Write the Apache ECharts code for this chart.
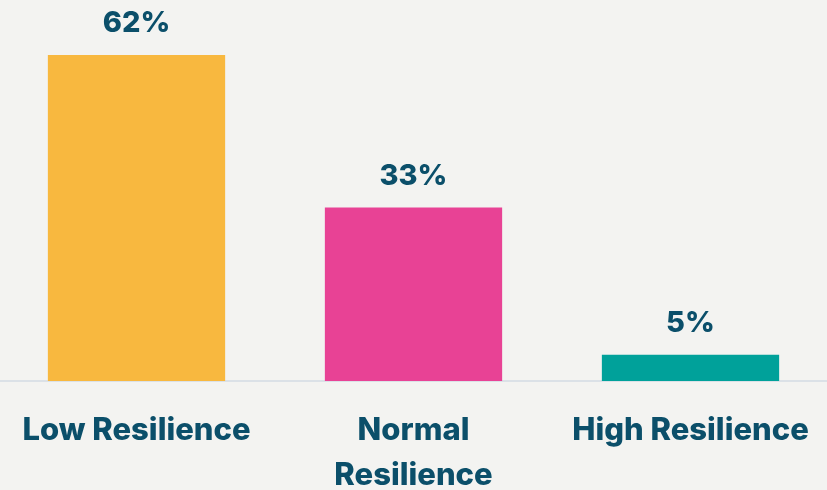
<!DOCTYPE html>
<html>
<head>
<meta charset="utf-8">
<script src="https://cdn.jsdelivr.net/npm/echarts@6/dist/echarts.min.js"></script>
<style>
  html, body { margin: 0; padding: 0; background: #f3f3f1; }
  #chart { width: 827px; height: 490px; }
</style>
</head>
<body>
<div id="chart"></div>
<script>
// Resilience levels and their shares (%)
const categories = ['Low Resilience', 'Normal\nResilience', 'High Resilience'];
const values = [62, 33, 5];
const barColors = ['#f8b83f', '#e84295', '#00a19a'];

const textColor = '#0b4f6a';
const fontFamily = 'Inter, "Noto Sans", sans-serif';

const chart = echarts.init(document.getElementById('chart'));
chart.setOption({
  backgroundColor: '#f3f3f1',
  animation: false,
  grid: {
    left: -2, right: -2, top: 13, bottom: 109,
    containLabel: false,
    outerBoundsMode: 'none'
  },
  xAxis: {
    type: 'category',
    data: categories,
    axisLine: { show: true, lineStyle: { color: '#dbe1e7', width: 2 } },
    axisTick: { show: false },
    axisLabel: {
      color: textColor,
      fontFamily: fontFamily,
      fontWeight: 800,
      fontSize: 31,
      lineHeight: 45,
      margin: 27,
      interval: 0
    }
  },
  yAxis: {
    type: 'value',
    min: 0,
    max: 70,
    show: false,
    splitLine: { show: false }
  },
  series: [{
    type: 'bar',
    barWidth: '64%',
    data: values.map((v, i) => ({ value: v, itemStyle: { color: barColors[i] } })),
    label: {
      show: true,
      position: 'top',
      distance: 17,
      formatter: p => p.value + '%',
      color: textColor,
      fontFamily: fontFamily,
      fontWeight: 800,
      fontSize: 29
    }
  }]
});
</script>
</body>
</html>
